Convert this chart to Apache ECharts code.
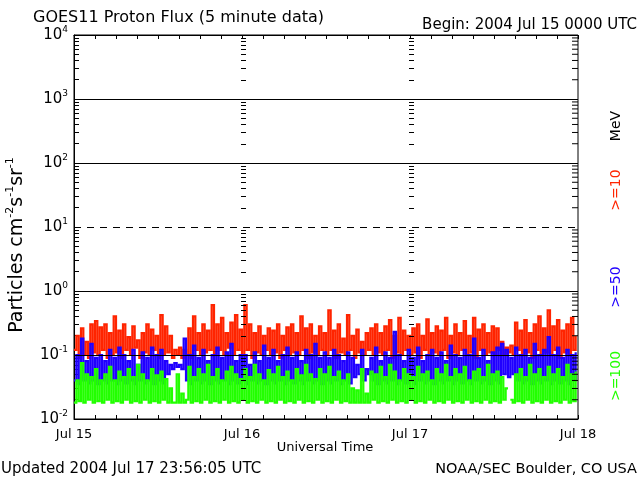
<!DOCTYPE html>
<html><head><meta charset="utf-8">
<script src="https://cdn.jsdelivr.net/npm/echarts@6/dist/echarts.min.js"></script>
<style>html,body{margin:0;padding:0;background:#fff}#c{width:640px;height:480px}</style>
</head><body><div id="c"></div><script>
// x axis: hours from 2004 Jul 15 0000 UTC
const dayLabels = ['Jul 15', 'Jul 16', 'Jul 17', 'Jul 18'];
const stepMinutes = 20;
// proton flux, particles cm^-2 s^-1 sr^-1
const p10 = [
0.12,0.2,0.09,0.26,0.1,0.16,0.09,0.3,0.11,0.34,0.1,0.27,
0.12,0.3,0.09,0.22,0.1,0.4,0.11,0.24,0.09,0.3,0.12,0.19,
0.1,0.28,0.13,0.17,0.09,0.22,0.11,0.3,0.1,0.25,0.12,0.2,
0.09,0.42,0.1,0.28,0.11,0.2,0.09,0.12,0.1,0.13,0.09,0.12,
0.1,0.26,0.09,0.4,0.12,0.22,0.1,0.3,0.11,0.24,0.12,0.6,
0.1,0.3,0.12,0.38,0.1,0.22,0.13,0.32,0.1,0.42,0.12,0.25,
0.1,0.6,0.12,0.3,0.09,0.22,0.11,0.28,0.1,0.2,0.12,0.26,
0.1,0.24,0.11,0.3,0.09,0.2,0.12,0.27,0.1,0.3,0.11,0.22,
0.1,0.4,0.12,0.26,0.09,0.3,0.11,0.2,0.1,0.28,0.12,0.22,
0.1,0.5,0.12,0.24,0.09,0.3,0.11,0.18,0.1,0.42,0.12,0.2,
0.09,0.25,0.11,0.16,0.1,0.22,0.12,0.26,0.1,0.3,0.11,0.22,
0.1,0.28,0.12,0.35,0.09,0.2,0.11,0.38,0.1,0.24,0.12,0.2,
0.1,0.26,0.11,0.3,0.09,0.2,0.12,0.36,0.1,0.22,0.11,0.28,
0.1,0.24,0.12,0.38,0.09,0.2,0.11,0.3,0.1,0.22,0.12,0.34,
0.1,0.2,0.11,0.38,0.09,0.25,0.12,0.3,0.1,0.22,0.11,0.28,
0.1,0.26,0.12,0.16,0.1,0.13,0.11,0.14,0.1,0.32,0.12,0.24,
0.1,0.35,0.11,0.22,0.09,0.3,0.12,0.4,0.1,0.26,0.11,0.5,
0.1,0.28,0.12,0.35,0.09,0.24,0.11,0.3,0.1,0.38,0.12,0.2
];
const p50 = [
0.04,0.1,0.035,0.18,0.04,0.08,0.036,0.15,0.04,0.09,0.035,0.1,
0.04,0.08,0.036,0.12,0.04,0.09,0.035,0.13,0.04,0.1,0.036,0.08,
0.04,0.12,0.035,0.07,0.04,0.11,0.036,0.09,0.04,0.13,0.035,0.1,
0.04,0.12,0.036,0.08,0.05,0.07,0.06,0.075,0.065,0.07,0.06,0.18,
0.04,0.1,0.035,0.14,0.04,0.09,0.036,0.12,0.04,0.08,0.035,0.1,
0.04,0.13,0.036,0.09,0.04,0.11,0.035,0.15,0.04,0.08,0.036,0.1,
0.04,0.1,0.035,0.07,0.04,0.11,0.036,0.08,0.04,0.14,0.035,0.09,
0.04,0.12,0.036,0.08,0.04,0.1,0.035,0.13,0.04,0.09,0.036,0.11,
0.04,0.08,0.035,0.12,0.04,0.1,0.036,0.15,0.04,0.09,0.035,0.11,
0.04,0.09,0.036,0.12,0.04,0.1,0.035,0.08,0.04,0.11,0.036,0.09,
0.045,0.07,0.05,0.12,0.04,0.06,0.05,0.09,0.04,0.13,0.035,0.08,
0.04,0.11,0.036,0.09,0.04,0.23,0.035,0.1,0.04,0.08,0.036,0.12,
0.04,0.09,0.035,0.13,0.04,0.08,0.036,0.1,0.04,0.12,0.035,0.09,
0.04,0.11,0.036,0.08,0.04,0.14,0.035,0.1,0.04,0.09,0.036,0.12,
0.04,0.1,0.035,0.18,0.04,0.09,0.036,0.12,0.04,0.08,0.035,0.11,
0.04,0.13,0.036,0.15,0.05,0.12,0.045,0.09,0.05,0.13,0.04,0.1,
0.036,0.12,0.04,0.09,0.035,0.15,0.04,0.1,0.036,0.12,0.04,0.19,
0.035,0.1,0.04,0.13,0.036,0.09,0.04,0.12,0.035,0.1,0.04,0.11
];
const p100 = [
0.018,0.04,0.019,0.075,0.018,0.05,0.02,0.045,0.018,0.06,0.019,0.04,
0.018,0.05,0.02,0.065,0.018,0.04,0.019,0.055,0.018,0.045,0.02,0.06,
0.018,0.045,0.019,0.07,0.018,0.05,0.02,0.04,0.018,0.06,0.019,0.048,
0.018,0.055,0.02,0.042,0.018,0.03,0.018,0.018,0.05,0.018,0.025,0.018,
0.02,0.065,0.018,0.045,0.019,0.06,0.018,0.05,0.02,0.07,0.018,0.045,
0.019,0.06,0.018,0.04,0.02,0.055,0.018,0.065,0.019,0.05,0.018,0.042,
0.02,0.06,0.018,0.045,0.019,0.07,0.018,0.05,0.02,0.04,0.018,0.058,
0.019,0.05,0.018,0.065,0.02,0.045,0.018,0.055,0.019,0.04,0.018,0.06,
0.02,0.048,0.018,0.07,0.019,0.05,0.018,0.042,0.02,0.06,0.018,0.05,
0.019,0.065,0.018,0.045,0.02,0.055,0.018,0.04,0.019,0.05,0.018,0.03,
0.018,0.028,0.018,0.06,0.018,0.025,0.018,0.055,0.02,0.05,0.018,0.065,
0.019,0.045,0.018,0.07,0.02,0.055,0.018,0.04,0.019,0.06,0.018,0.05,
0.02,0.045,0.018,0.065,0.019,0.05,0.018,0.055,0.02,0.04,0.018,0.06,
0.019,0.05,0.018,0.07,0.02,0.045,0.018,0.06,0.019,0.05,0.018,0.065,
0.02,0.04,0.018,0.055,0.019,0.06,0.018,0.045,0.02,0.07,0.018,0.05,
0.019,0.055,0.018,0.045,0.02,0.03,'-',0.02,0.018,0.05,0.019,0.06,
0.018,0.045,0.02,0.07,0.018,0.05,0.019,0.06,0.018,0.045,0.02,0.065,
0.018,0.05,0.019,0.06,0.018,0.045,0.02,0.07,0.018,0.05,0.019,0.055
];
const solidLevels = [1000, 100, 1, 0.1];
const dashedLevels = [10];
const seriesNames = ['>=10', '>=50', '>=100'];
const seriesColors = ['#ff2400', '#2000ff', '#22ff00'];

const FONT = '"DejaVu Sans", sans-serif';
const toXY = arr => arr.map((v, i) => [i * stepMinutes / 60, v]);

const minorTickValues = [];
for (let e = -2; e <= 3; e++) for (let m = 2; m <= 9; m++) minorTickValues.push(m * Math.pow(10, e));
const minorTicks = minorTickValues.map(v => [0, v]);
const gridLevels = solidLevels.map(v => [0, v, 0]).concat(dashedLevels.map(v => [0, v, 1]));

const chart = echarts.init(document.getElementById('c'), null, {renderer: 'canvas'});
const lineSeries = (name, arr, color) => ({
  name, type: 'line', data: toXY(arr), step: 'end', showSymbol: false, symbol: 'none',
  lineStyle: {color, width: 2.2, join: 'miter', cap: 'butt'}, itemStyle: {color}, z: 2, animation: false, connectNulls: false
});
// minor tick column on a day boundary: at hour h, from dx1 to dx2 px relative to it
const tickSeries = (h, dx1, dx2) => ({
  type: 'custom', z: 11, data: minorTicks, silent: true, clip: false,
  renderItem: (params, api) => {
    const p = api.coord([h, api.value(1)]);
    const y = Math.round(p[1]) + 0.5;
    const x0 = Math.round(p[0]);
    return {type: 'line', shape: {x1: x0 + dx1, y1: y, x2: x0 + dx2, y2: y},
      style: {stroke: '#000', lineWidth: 1}};
  }
});
chart.setOption({
  animation: false,
  grid: {left: 74, right: 62, top: 35, bottom: 61, show: true, borderColor: '#000', borderWidth: 1, backgroundColor: 'transparent'},
  xAxis: [{
    type: 'value', min: 0, max: 72, interval: 3, position: 'bottom',
    axisLine: {show: true, lineStyle: {color: '#000', width: 1}},
    axisTick: {show: true, inside: true, length: 4, lineStyle: {color: '#000'}},
    axisLabel: {color: '#000', fontFamily: FONT, fontSize: 13, margin: 9,
      formatter: v => (v % 24 === 0 ? dayLabels[v / 24] : '')},
    splitLine: {show: false}
  }, {
    type: 'value', min: 0, max: 72, interval: 3, position: 'top',
    axisLine: {show: true, lineStyle: {color: '#000', width: 1}},
    axisTick: {show: true, inside: true, length: 4, lineStyle: {color: '#000'}},
    axisLabel: {show: false}, splitLine: {show: false}
  }],
  yAxis: {
    type: 'log', logBase: 10, min: 0.01, max: 10000,
    axisLine: {show: true, lineStyle: {color: '#000'}},
    axisTick: {show: true, inside: true, length: 5, lineStyle: {color: '#000', width: 1}},
    minorTick: {show: true, splitNumber: 9, length: 5, lineStyle: {color: '#000', width: 1}},
    splitLine: {show: false}, minorSplitLine: {show: false},
    axisLabel: {color: '#000', margin: 6,
      formatter: v => '{b|10}{s|' + Math.round(Math.log10(v)) + '}',
      rich: {b: {fontFamily: FONT, fontSize: 15, lineHeight: 20, color: '#000'},
             s: {fontFamily: FONT, fontSize: 9, verticalAlign: 'top', lineHeight: 9, color: '#000'}}}
  },
  series: [
    lineSeries(seriesNames[0], p10, seriesColors[0]),
    lineSeries(seriesNames[1], p50, seriesColors[1]),
    lineSeries(seriesNames[2], p100, seriesColors[2]),
    {
      type: 'custom', z: 10, data: gridLevels, silent: true, clip: false,
      renderItem: (params, api) => {
        const v = api.value(1), dashed = api.value(2) === 1;
        const a = api.coord([0, v]), b = api.coord([72, v]);
        const y = Math.round(a[1]) + 0.5;
        return {type: 'line', shape: {x1: a[0], y1: y, x2: b[0], y2: y},
          style: {stroke: '#000', lineWidth: 1, lineDash: dashed ? [7, 6] : null}};
      }
    },
    tickSeries(24, -1, 4),
    tickSeries(48, -1, 4),
    {
      // right-frame minor ticks
      type: 'scatter', z: 12, silent: true, clip: false, animation: false,
      data: minorTickValues.map(v => [72, v]),
      symbol: 'rect', symbolSize: [6, 1], symbolOffset: [-3, 0],
      itemStyle: {color: '#000', opacity: 1}
    }
  ],
  graphic: [
    {type: 'text', x: 33, y: 18, style: {text: 'GOES11 Proton Flux (5 minute data)', font: '16px ' + FONT, fill: '#000', align: 'left', verticalAlign: 'middle', textAlign: 'left', textVerticalAlign: 'middle'}},
    {type: 'text', x: 637, y: 25, style: {text: 'Begin: 2004 Jul 15 0000 UTC', font: '15px ' + FONT, fill: '#000', align: 'right', verticalAlign: 'middle', textAlign: 'right', textVerticalAlign: 'middle'}},
    {type: 'text', x: 325, y: 448, style: {text: 'Universal Time', font: '13px ' + FONT, fill: '#000', align: 'center', verticalAlign: 'middle', textAlign: 'center', textVerticalAlign: 'middle'}},
    {type: 'text', x: 1, y: 469, style: {text: 'Updated 2004 Jul 17 23:56:05 UTC', font: '15px ' + FONT, fill: '#000', align: 'left', verticalAlign: 'middle', textAlign: 'left', textVerticalAlign: 'middle'}},
    {type: 'text', x: 637, y: 469, style: {text: 'NOAA/SEC Boulder, CO USA', font: '14.5px ' + FONT, fill: '#000', align: 'right', verticalAlign: 'middle', textAlign: 'right', textVerticalAlign: 'middle'}},
    {type: 'text', x: 17, y: 245, rotation: Math.PI / 2, style: {
      text: '{b|Particles cm}{s|-2}{b|s}{s|-1}{b|sr}{s|-1}', fill: '#000', align: 'center', verticalAlign: 'middle', textAlign: 'center', textVerticalAlign: 'middle',
      rich: {b: {fontFamily: FONT, fontSize: 19, lineHeight: 24}, s: {fontFamily: FONT, fontSize: 11, lineHeight: 11, verticalAlign: 'top'}}}},
    {type: 'text', x: 616, y: 126, rotation: Math.PI / 2, style: {text: 'MeV', font: '14px ' + FONT, fill: '#000', align: 'center', verticalAlign: 'middle', textAlign: 'center', textVerticalAlign: 'middle'}},
    {type: 'text', x: 616, y: 190, rotation: Math.PI / 2, style: {text: seriesNames[0], font: '14px ' + FONT, fill: seriesColors[0], align: 'center', verticalAlign: 'middle', textAlign: 'center', textVerticalAlign: 'middle'}},
    {type: 'text', x: 616, y: 287, rotation: Math.PI / 2, style: {text: seriesNames[1], font: '14px ' + FONT, fill: seriesColors[1], align: 'center', verticalAlign: 'middle', textAlign: 'center', textVerticalAlign: 'middle'}},
    {type: 'text', x: 616, y: 376, rotation: Math.PI / 2, style: {text: seriesNames[2], font: '14px ' + FONT, fill: seriesColors[2], align: 'center', verticalAlign: 'middle', textAlign: 'center', textVerticalAlign: 'middle'}}
  ]
});
</script></body></html>
